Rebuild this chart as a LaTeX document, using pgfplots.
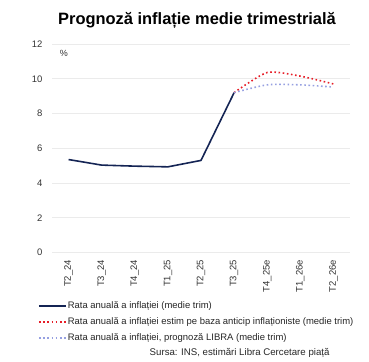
\documentclass[border=0pt]{standalone}
\usepackage{pgfplots}
\pgfplotsset{compat=1.18}
\usepackage{fontspec}
\setmainfont{Liberation Sans}
\definecolor{navy}{RGB}{20,36,84}
\definecolor{redd}{RGB}{230,30,40}
\definecolor{lblue}{RGB}{150,160,225}
\definecolor{gridc}{RGB}{235,235,235}
\begin{document}
\begin{tikzpicture}
\useasboundingbox (0,0) rectangle (369bp,362bp);
\node[anchor=base, font=\fontsize{16.5}{18}\selectfont\bfseries] at (197bp,337bp) {Prognoză inflație medie trimestrială};
\begin{axis}[
  at={(52bp,109.5bp)}, anchor=south west,
  scale only axis, width=298bp, height=208.5bp,
  xmin=-0.5, xmax=8.5, ymin=0, ymax=12,
  ytick={0,2,...,12},
  xtick={0,...,8},
  xticklabels={T2\_24,T3\_24,T4\_24,T1\_25,T2\_25,T3\_25,T4\_25e,T1\_26e,T2\_26e},
  x tick label style={rotate=90, anchor=east, font=\fontsize{9.5}{10}\selectfont, text=black!80},
  y tick label style={font=\fontsize{9.5}{10}\selectfont, text=black!80},
  /pgf/number format/assume math mode=true,
  axis line style={draw=none},
  axis x line*=bottom,
  x axis line style={draw=gridc},
  major tick length=0pt,
  ymajorgrids, grid style={gridc, line width=0.6pt},
  xticklabel shift=4bp, yticklabel shift=6bp,
  legend style={at={(rel axis cs:-0.047,-0.234)}, anchor=north west, draw=none, fill=none,
    font=\fontsize{9.5}{10}\selectfont, inner sep=0pt, row sep=7bp, text=black!85,
    nodes={inner xsep=1pt, inner ysep=0pt, text height=7bp, text depth=2bp}},
  legend cell align=left,
  legend image code/.code={\draw[#1] (0bp,0bp) -- (27bp,0bp);},
  clip=false,
]
\addplot[navy, line width=1.6pt] coordinates {(0,5.35) (1,5.03) (2,4.97) (3,4.93) (4,5.3) (5,9.2)};
\addlegendentry{Rata anuală a inflației (medie trim)}
\addplot[redd, line width=1.6pt, dash pattern=on 1.6pt off 2.6pt, smooth, tension=0.4] coordinates {(5,9.2) (6,10.36) (7,10.15) (8,9.7)};
\addlegendentry{Rata anuală a inflației estim pe baza anticip inflaționiste (medie trim)}
\addplot[lblue, line width=1.6pt, dash pattern=on 1.6pt off 2.6pt, smooth, tension=0.4] coordinates {(5,9.2) (6,9.65) (7,9.65) (8,9.52)};
\addlegendentry{Rata anuală a inflației, prognoză LIBRA (medie trim)}
\node[anchor=north west, font=\fontsize{9}{10}\selectfont, text=black!80] at (rel axis cs:0.015,0.985) {\%};
\end{axis}
\node[anchor=base east, font=\fontsize{9.7}{11}\selectfont, text=black!85] at (333bp,7bp) {Sursa: INS, estimări Libra Cercetare piață};
\end{tikzpicture}
\end{document}
